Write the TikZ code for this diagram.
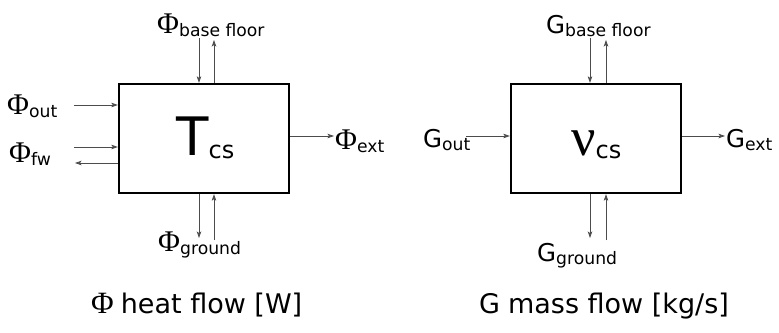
\documentclass[tikz,border=0pt]{standalone}
\usepackage{fontspec}
\setmainfont{DejaVu Sans}
\newfontfamily\serf{Liberation Serif}
\usetikzlibrary{arrows.meta}
\newcommand{\Phisym}{{\serf\fontsize{30}{31}\selectfont Φ}}
\newcommand{\Gsym}{{\fontsize{24.5}{26}\selectfont G}}
\newcommand{\subtx}[1]{\raisebox{-3.5pt}{\fontsize{17.2}{18}\selectfont #1}}
\tikzset{
  flow/.style={draw=black!70, line width=0.75pt, -{Stealth[length=6.5pt,width=4.5pt,inset=1.5pt]}},
  cv/.style={draw=black, line width=2.3pt, minimum width=170pt, minimum height=109pt, inner sep=0pt},
  lbl/.style={anchor=base west, inner sep=0pt},
}
\begin{document}
\begin{tikzpicture}[x=1pt,y=-1pt]
\useasboundingbox (0,0) rectangle (779,332);
% left box
\node[cv] (L) at (204,138.5) {};
\node[lbl] (Lc) at (176,155) {\fontsize{53}{55}\selectfont T\raisebox{-3pt}{\fontsize{24}{26}\selectfont cs}};
\coordinate (Ltop1) at (199,38);
\coordinate (Ltop2) at (214,40);
\coordinate (Lbot1) at (199,238);
\coordinate (Lbot2) at (214,240);
\coordinate (Lout) at (74,105);
\coordinate (Lfwin) at (74,147);
\coordinate (Lfwout) at (75,163);
\coordinate (Lext) at (334,136);
\draw[flow] (Ltop1) -- (Ltop1 |- L.north);
\draw[flow] (Ltop2 |- L.north) -- (Ltop2);
\draw[flow] (Lbot1 |- L.south) -- (Lbot1);
\draw[flow] (Lbot2) -- (Lbot2 |- L.south);
\draw[flow] (Lout) -- (Lout -| L.west);
\draw[flow] (Lfwin) -- (Lfwin -| L.west);
\draw[flow] (Lfwout -| L.west) -- (Lfwout);
\draw[flow] (Lext -| L.east) -- (Lext);
\node[lbl] (Lbf) at (157,33) {\Phisym\subtx{base floor}};
\node[lbl] (Lo) at (7,114) {\Phisym\subtx{out}};
\node[lbl] (Lf) at (9,162) {\Phisym\subtx{fw}};
\node[lbl] (Le) at (335,149) {\Phisym\subtx{ext}};
\node[lbl] (Lg) at (158,251) {\Phisym\subtx{ground}};
% right box
\node[cv] (R) at (596,138.5) {};
\node[lbl] (Rc) at (571,155) {{\serf\fontsize{54}{56}\selectfont ν}\raisebox{-3pt}{\fontsize{24}{26}\selectfont cs}};
\coordinate (Rtop1) at (590,38);
\coordinate (Rtop2) at (606,40);
\coordinate (Rbot1) at (590,238);
\coordinate (Rbot2) at (606,240);
\coordinate (Rout) at (466,136);
\coordinate (Rext) at (725,136);
\draw[flow] (Rtop1) -- (Rtop1 |- R.north);
\draw[flow] (Rtop2 |- R.north) -- (Rtop2);
\draw[flow] (Rbot1 |- R.south) -- (Rbot1);
\draw[flow] (Rbot2) -- (Rbot2 |- R.south);
\draw[flow] (Rout) -- (Rout -| R.west);
\draw[flow] (Rext -| R.east) -- (Rext);
\node[lbl] (Rbf) at (546,33) {\Gsym\subtx{base floor}};
\node[lbl] (Ro) at (423,147) {\Gsym\subtx{out}};
\node[lbl] (Re) at (726,147) {\Gsym\subtx{ext}};
\node[lbl] (Rg) at (537,261) {\Gsym\subtx{ground}};
% legends
\node[lbl] (leg1) at (91,313) {{\serf\fontsize{31}{32}\selectfont Φ}\hspace{7pt}{\fontsize{27}{29}\selectfont heat flow [W]}};
\node[lbl] (leg2) at (479,313) {{\fontsize{27}{29}\selectfont G}\hspace{8pt}{\fontsize{27}{29}\selectfont mass flow [kg/s]}};
\end{tikzpicture}
\end{document}
